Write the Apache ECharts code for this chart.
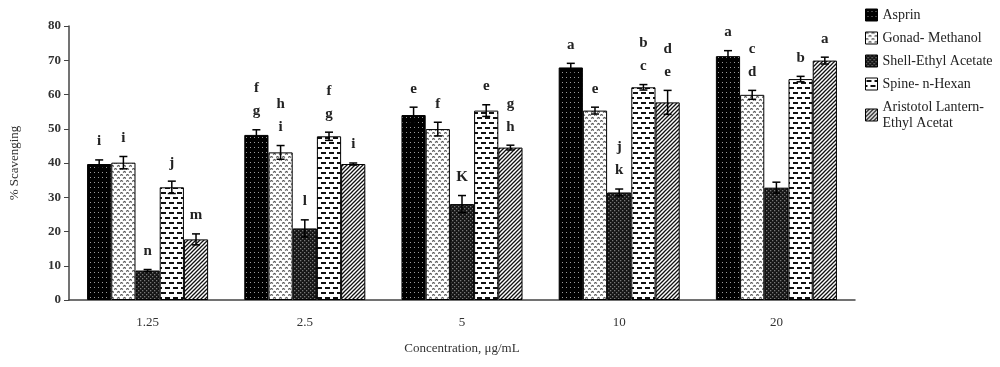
<!DOCTYPE html>
<html><head><meta charset="utf-8">
<script src="https://cdn.jsdelivr.net/npm/echarts@6/dist/echarts.min.js"></script>
<style>html,body{margin:0;padding:0;background:#fff}#c{width:1000px;height:367px}</style>
</head><body><div id="c"></div>
<script>
const categories = ['1.25','2.5','5','10','20'];
const seriesNames = ['Asprin','Gonad- Methanol','Shell-Ethyl Acetate','Spine- n-Hexan','Aristotol Lantern-\nEthyl Acetat'];
const asprin = [39.7, 48.2, 54.0, 67.9, 71.2];
const gonad = [40.1, 43.1, 49.9, 55.3, 59.9];
const shell = [8.6, 20.9, 28.0, 31.4, 32.8];
const spine = [32.9, 47.8, 55.3, 62.1, 64.5];
const aristotol = [17.7, 39.7, 44.5, 57.7, 69.9];
const asprinErr = [1.2, 1.5, 2.3, 1.2, 1.6];
const gonadErr = [1.8, 2.0, 2.0, 1.0, 1.3];
const shellErr = [0.3, 2.5, 2.5, 1.0, 1.6];
const spineErr = [1.8, 1.2, 1.7, 0.8, 0.8];
const aristotolErr = [1.6, 0.3, 0.7, 3.5, 1.0];
const asprinLbl = ['i','f\ng','e','a','a'];
const gonadLbl = ['i','h\ni','f','e','c\nd'];
const shellLbl = ['n','l','K','j\nk',''];
const spineLbl = ['j','f\ng','e','b\nc','b'];
const aristotolLbl = ['m','i','g\nh','d\ne','a'];

function pat(w,h,draw){const c=document.createElement('canvas');c.width=w;c.height=h;const g=c.getContext('2d');draw(g);return {image:c,repeat:'repeat'};}
const patterns = [
  pat(4,5,g=>{g.fillStyle='#000';g.fillRect(0,0,4,5);g.fillStyle='#9a9a9a';g.fillRect(2,2,1,1);}),
  pat(6,6,g=>{g.fillStyle='#fff';g.fillRect(0,0,6,6);g.strokeStyle='#555';g.lineWidth=1.1;
    g.beginPath();g.moveTo(0,1.5);g.lineTo(1.5,0.5);g.lineTo(3,1.5);g.stroke();
    g.beginPath();g.moveTo(3,4.5);g.lineTo(4.5,3.5);g.lineTo(6,4.5);g.stroke();}),
  pat(4,4,g=>{g.fillStyle='#151515';g.fillRect(0,0,4,4);g.fillStyle='#777';g.fillRect(0,0,1.3,1.3);g.fillRect(2,2,1.3,1.3);}),
  pat(8,10,g=>{g.fillStyle='#fff';g.fillRect(0,0,8,10);g.fillStyle='#111';g.fillRect(1,2,5,2);g.fillRect(5,7,3,2);g.fillRect(0,7,2,2);}),
  pat(4,4,g=>{g.fillStyle='#fff';g.fillRect(0,0,4,4);g.strokeStyle='#111';g.lineWidth=1.3;
    g.beginPath();g.moveTo(0,4);g.lineTo(4,0);g.moveTo(-1,1);g.lineTo(1,-1);g.moveTo(3,5);g.lineTo(5,3);g.stroke();})
];

const vals = [asprin,gonad,shell,spine,aristotol];
const errs = [asprinErr,gonadErr,shellErr,spineErr,aristotolErr];
const lbls = [asprinLbl,gonadLbl,shellLbl,spineLbl,aristotolLbl];
const CAT_GAP = 0.23;
const FONT = 'Liberation Serif';

const errData = [];
const errLabels = [];
for (let s=0;s<5;s++) for (let i=0;i<5;i++){ errData.push([i,s,vals[s][i],errs[s][i]]); errLabels.push(lbls[s][i]); }

const series = seriesNames.map((n,s)=>({
  name:n, type:'bar', data:vals[s], barGap:'0%', barCategoryGap:(CAT_GAP*100)+'%',
  itemStyle:{color:patterns[s], borderColor:'#000', borderWidth:1},
  emphasis:{disabled:true}
}));
series.push({
  type:'custom', silent:true, z:10, data:errData,
  renderItem:function(params, api){
    const ci=api.value(0), si=api.value(1), v=api.value(2), e=api.value(3);
    const bandW=api.size([1,0])[0];
    const barW=bandW*(1-CAT_GAP)/5;
    const cx=api.coord([ci,0])[0]+(si-2)*barW;
    const top=api.coord([ci,v+e])[1], bot=api.coord([ci,v-e])[1];
    const cap=4;
    const ls={stroke:'#000',lineWidth:1.5};
    const children=[
      {type:'line',shape:{x1:cx,y1:top,x2:cx,y2:bot},style:ls},
      {type:'line',shape:{x1:cx-cap,y1:top,x2:cx+cap,y2:top},style:ls},
      {type:'line',shape:{x1:cx-cap,y1:bot,x2:cx+cap,y2:bot},style:ls}
    ];
    const t=errLabels[params.dataIndex];
    if(t){children.push({type:'text',style:{text:t,x:cx,y:top-7,align:'center',verticalAlign:'bottom',
      font:'bold 15px "'+FONT+'"',lineHeight:23,fill:'#222'}});}
    return {type:'group',children:children};
  }
});

const chart = echarts.init(document.getElementById('c'));
chart.setOption({
  animation:false,
  textStyle:{fontFamily:FONT},
  legend:{data:seriesNames, orient:'vertical', left:860, top:2, itemWidth:12, itemHeight:12, itemGap:7, icon:'rect',
    textStyle:{fontFamily:FONT, fontSize:14, color:'#222', lineHeight:16}, itemStyle:{borderColor:'#000',borderWidth:1}},
  grid:{left:65, right:145, top:26, bottom:67},
  xAxis:{type:'category', data:categories, axisTick:{show:false},
    axisLine:{lineStyle:{color:'#444',width:1.5}},
    axisLabel:{fontFamily:FONT,fontSize:13,color:'#333',margin:16},
    name:'Concentration, μg/mL', nameLocation:'middle', nameGap:42,
    nameTextStyle:{fontFamily:FONT,fontSize:13,color:'#333'}},
  yAxis:{type:'value', min:0, max:80, interval:10, splitLine:{show:false},
    axisLine:{show:true,lineStyle:{color:'#444',width:1.5}}, axisTick:{show:true,length:5,lineStyle:{color:'#444'}},
    axisLabel:{fontFamily:FONT,fontSize:13,color:'#333',fontWeight:'bold',margin:8},
    name:'% Scavenging', nameLocation:'middle', nameGap:48, nameRotate:90,
    nameTextStyle:{fontFamily:FONT,fontSize:13,color:'#333'}},
  series:series
});
</script></body></html>
